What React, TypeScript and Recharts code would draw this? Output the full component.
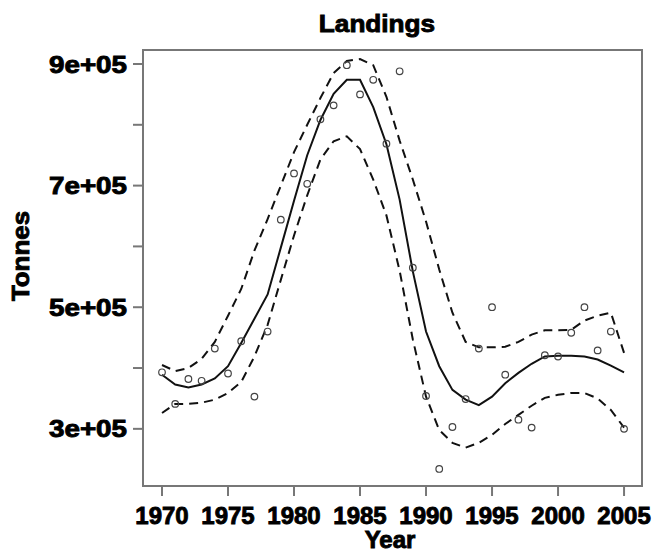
import { ComposedChart, Line, Scatter, XAxis, YAxis, ReferenceArea } from 'recharts'

const years = [
  1970, 1971, 1972, 1973, 1974, 1975, 1976, 1977, 1978, 1979, 1980, 1981,
  1982, 1983, 1984, 1985, 1986, 1987, 1988, 1989, 1990, 1991, 1992, 1993,
  1994, 1995, 1996, 1997, 1998, 1999, 2000, 2001, 2002, 2003, 2004, 2005,
]

// observed landings (circles)
const landings = [
  393000, 341000, 382000, 379000, 432000, 391000, 444000, 353000, 460000, 644000, 720000, 703000,
  809000, 832000, 898000, 850000, 874000, 769000, 888000, 565000, 354000, 234000, 303000, 349000,
  432000, 500000, 389000, 315000, 302000, 421000, 419000, 458000, 500000, 429000, 460000, 300000,
]

// smoothed fit (solid)
const fit = [
  389000, 373000, 368000, 373000, 383000, 403000, 441000, 481000, 521000, 598000, 675000, 750000,
  808000, 851000, 874000, 874000, 829000, 768000, 677000, 559000, 460000, 403000, 364000, 348000,
  339000, 353000, 375000, 392000, 407000, 419000, 420000, 420000, 419000, 414000, 404000, 393000,
]

// confidence band (dashed)
const upper = [
  405000, 395000, 400000, 415000, 443000, 486000, 530000, 593000, 645000, 700000, 755000, 800000,
  844000, 885000, 905000, 908000, 898000, 846000, 774000, 710000, 641000, 562000, 491000, 443000,
  434000, 434000, 435000, 443000, 455000, 462000, 462000, 463000, 478000, 486000, 491000, 425000,
]

const lower = [
  326000, 341000, 341000, 343000, 348000, 359000, 377000, 419000, 471000, 545000, 618000, 684000,
  743000, 773000, 781000, 760000, 710000, 651000, 560000, 447000, 353000, 298000, 277000, 269000,
  277000, 290000, 308000, 323000, 338000, 351000, 356000, 359000, 359000, 350000, 331000, 302000,
]

const xTicks = [1970, 1975, 1980, 1985, 1990, 1995, 2000, 2005]
const yTicks = [300000, 400000, 500000, 600000, 700000, 800000, 900000]

const data = years.map((year, i) => ({
  year,
  landings: landings[i],
  fit: fit[i],
  upper: upper[i],
  lower: lower[i],
}))

const FONT = "'Liberation Sans', Arial, sans-serif"
const textStyle = { fontFamily: FONT, fontWeight: 700, fontSize: 24, fill: '#000', stroke: '#000', strokeWidth: 0.9 }

const XTick = ({ x, y, payload }: any) => (
  <text x={x} y={y} dy="0.71em" textAnchor="middle" {...textStyle}>
    {payload.value}
  </text>
)

const YTick = ({ x, y, payload }: any) => {
  const n = Math.round(payload.value / 100000)
  if (n % 2 === 0) return <g />
  return (
    <text x={x} y={y} dy="0.36em" textAnchor="end" textLength={78} lengthAdjust="spacingAndGlyphs" {...textStyle}>
      {`${n}e+05`}
    </text>
  )
}

const Dot = ({ cx, cy }: any) => <circle cx={cx} cy={cy} r={3.3} fill="none" stroke="#444" strokeWidth={1.2} />

const htmlText = {
  position: 'absolute' as const,
  fontFamily: FONT,
  fontWeight: 700,
  fontSize: 24,
  lineHeight: '20px',
  height: 20,
  color: '#000',
  textAlign: 'center' as const,
  WebkitTextStroke: '0.9px #000',
}

export default function App() {
  return (
    <div style={{ position: 'absolute', left: 0, top: 0, width: 657, height: 554, background: '#fff' }}>
      <ComposedChart width={657} height={554} data={data} margin={{ top: 50, right: 15, left: 43, bottom: 0 }}>
        <XAxis
          type="number"
          dataKey="year"
          domain={[1968.56, 2006.36]}
          ticks={xTicks}
          allowDataOverflow
          axisLine={false}
          tickLine={{ stroke: '#777', strokeWidth: 2 }}
          tickSize={10}
          tickMargin={11}
          height={68}
          tick={<XTick />}
        />
        <YAxis
          type="number"
          domain={[206000, 923000]}
          ticks={yTicks}
          allowDataOverflow
          axisLine={false}
          tickLine={{ stroke: '#777', strokeWidth: 2 }}
          tickSize={10}
          tickMargin={6}
          width={100}
          tick={<YTick />}
        />
        <ReferenceArea
          x1={1968.56}
          x2={2006.36}
          y1={206000}
          y2={923000}
          fill="none"
          stroke="#777"
          strokeWidth={2}
          ifOverflow="visible"
        />
        <Line type="linear" dataKey="upper" stroke="#111" strokeWidth={2} strokeDasharray="9 6" dot={false} isAnimationActive={false} />
        <Line type="linear" dataKey="lower" stroke="#111" strokeWidth={2} strokeDasharray="9 6" dot={false} isAnimationActive={false} />
        <Line type="linear" dataKey="fit" stroke="#111" strokeWidth={2} dot={false} isAnimationActive={false} />
        <Scatter dataKey="landings" shape={<Dot />} isAnimationActive={false} />
      </ComposedChart>
      <div style={{ ...htmlText, left: 277, top: 14, width: 200, transform: 'scaleX(1.09)' }}>Landings</div>
      <div style={{ ...htmlText, left: 290, top: 530, width: 200 }}>Year</div>
      <div style={{ ...htmlText, left: -39, top: 246, width: 120, transform: 'rotate(-90deg) scaleX(1.08)' }}>Tonnes</div>
    </div>
  )
}
